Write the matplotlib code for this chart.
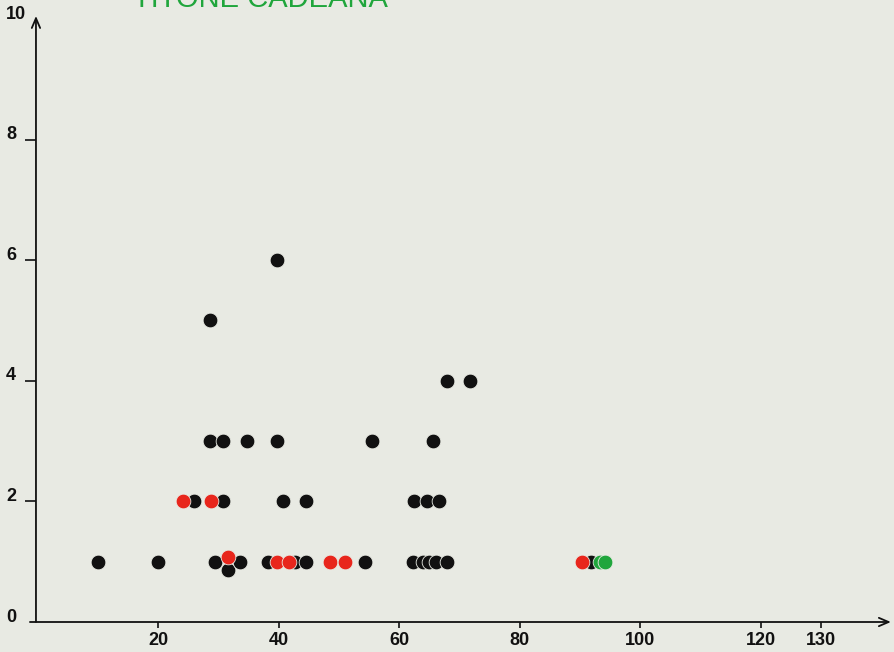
import matplotlib
matplotlib.use("Agg")
import matplotlib.pyplot as plt

# Counts per sample plotted against depth (m)
black_x = [10.0, 20.0, 29.4, 31.6, 33.6, 38.2, 42.7, 44.5, 54.3,
           62.3, 63.9, 64.9, 66.1, 67.9, 91.8,
           25.9, 30.7, 40.7, 44.5, 62.5, 64.6, 66.6,
           28.6, 30.7, 34.7, 39.7, 55.5, 65.6,
           67.9, 71.7,
           28.6,
           39.7]
black_y = [1, 1, 1, 0.87, 1, 1, 1, 1, 1,
           1, 1, 1, 1, 1, 1,
           2, 2, 2, 2, 2, 2, 2,
           3, 3, 3, 3, 3, 3,
           4, 4,
           5,
           6]

red_x = [31.6, 39.7, 41.7, 48.5, 51.0, 90.3, 24.1, 28.7]
red_y = [1.07, 1, 1, 1, 1, 1, 2, 2]

green_x = [93.3, 94.1]
green_y = [1, 1]

x_ticks = [20, 40, 60, 80, 100, 120, 130]
y_ticks = [2, 4, 6, 8]
y_labels = ["0", "2", "4", "6", "8", "10"]
y_label_pos = [0, 2, 4, 6, 8, 10]

title = "TITONE CADEANA"

paper = "#e8eae3"
ink = "#111111"
red = "#e8261c"
green = "#20a63c"

fig = plt.figure(figsize=(8.94, 6.52), dpi=100)
fig.patch.set_facecolor(paper)
ax = fig.add_axes([0, 0, 1, 1])
ax.set_facecolor(paper)
ax.set_xlim(-6.27, 142.12)
ax.set_ylim(-0.4975, 10.315)
ax.axis("off")

# axes drawn as arrows
ax.annotate("", xy=(-0.3, 10.05), xytext=(-0.3, 0),
            arrowprops=dict(arrowstyle="->,head_length=0.7,head_width=0.3",
                            lw=1.3, color=ink, shrinkA=0, shrinkB=0))
ax.annotate("", xy=(141.6, 0), xytext=(-1.3, 0),
            arrowprops=dict(arrowstyle="->,head_length=0.7,head_width=0.3",
                            lw=1.3, color=ink, shrinkA=0, shrinkB=0))

tick_font = dict(family=["Liberation Sans", "DejaVu Sans"], fontsize=13,
                 fontweight="bold", color=ink)

for t in y_ticks:
    ax.plot([-2.12, -0.3], [t, t], color=ink, lw=1.2, solid_capstyle="butt")
for lab, pos in zip(y_labels, y_label_pos):
    ax.text(-5.25, pos + 0.08, lab, ha="left", va="center", **tick_font)

for t in x_ticks:
    ax.plot([t, t], [0, -0.1], color=ink, lw=1.2, solid_capstyle="butt")
    ax.text(t, -0.315, str(t), ha="center", va="center", **tick_font)

dot = dict(s=112, linewidths=0.6, edgecolors=paper, zorder=3)
ax.scatter(black_x, black_y, c=ink, **dot)
ax.scatter(red_x, red_y, c=red, **dot)
ax.scatter(green_x, green_y, c=green, **dot)

fig.text(0.2908, 1 - 7 / 652, title, ha="center", va="baseline",
         fontsize=21, color=green, family=["Liberation Sans", "DejaVu Sans"])

fig.savefig("out.png", dpi=100, facecolor=paper)
